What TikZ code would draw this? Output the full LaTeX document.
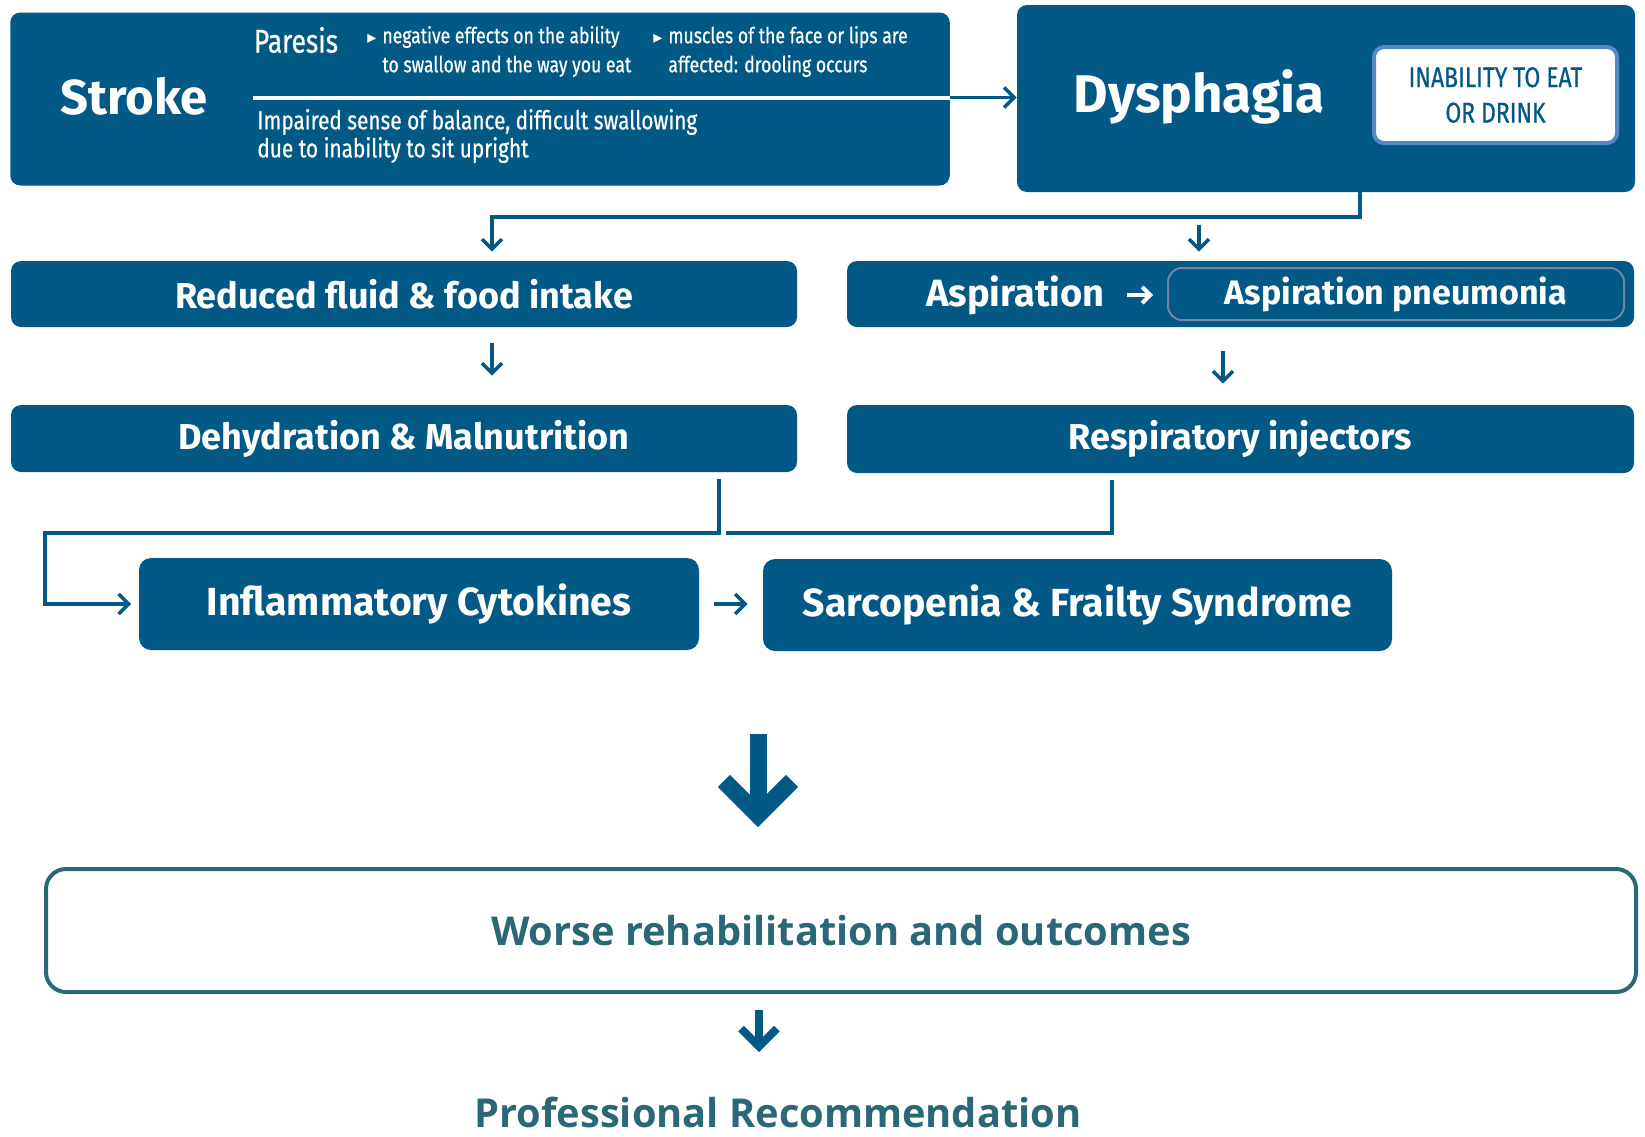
\documentclass[tikz,border=0pt]{standalone}
\usepackage{fontspec}
\setmainfont{Fira Sans}
\newfontfamily\condfont[FakeStretch=0.8,FakeBold=0.6]{Fira Sans}
\newfontfamily\opensans{Open Sans}
\newfontfamily\symfont{DejaVu Sans}
\usetikzlibrary{positioning,arrows.meta,calc}
\definecolor{DeepBlue}{RGB}{2,89,134}
\definecolor{TealText}{RGB}{42,104,120}
\definecolor{EdgeBlue}{RGB}{84,136,196}
\definecolor{EdgeGrey}{RGB}{112,134,164}
\newcommand{\tri}{{\symfont\fontsize{9}{9}\selectfont ▸}\hspace{3pt}}
\tikzset{
  flow/.style={-{Straight Barb[length=5pt,width=10pt,sharp]},line width=1.8pt,draw=DeepBlue},
  plainline/.style={line width=1.6pt,draw=DeepBlue},
  whiteflow/.style={-{Straight Barb[length=4pt,width=8pt,sharp]},line width=2pt,draw=white},
  bigflow/.style={-{Straight Barb[length=17pt,width=34pt,sharp]},line width=8.5pt,draw=DeepBlue},
  midflow/.style={-{Straight Barb[length=9pt,width=18pt,sharp]},line width=4pt,draw=DeepBlue},
  bluebox/.style={fill=DeepBlue,rounded corners=5pt,inner sep=0pt,text=white,align=center},
  rowbox/.style={bluebox,minimum height=33pt,font=\fontsize{18}{20}\selectfont\bfseries},
  lowbox/.style={bluebox,rounded corners=6pt,minimum height=46pt,font=\fontsize{19.6}{22}\selectfont\bfseries},
  headtxt/.style={text=white,inner sep=0pt,font=\fontsize{24.5}{27}\selectfont\bfseries},
  smalltxt/.style={text=white,inner sep=0pt,align=left,font=\condfont\fontsize{11}{14.5}\selectfont},
  tealtxt/.style={text=TealText,inner sep=0pt,font=\opensans\fontsize{19.9}{22}\selectfont\bfseries}
}
\begin{document}
\begin{tikzpicture}[x=0.5pt,y=-0.5pt]
  \useasboundingbox (0,0) rectangle (1645,1136);
  % top row
  \node[bluebox,minimum width=469.75pt,minimum height=86.5pt] (stroke) at (480,99) {};
  \node[bluebox,minimum width=309pt,minimum height=93.5pt] (dys) at (1326,98.5) {};
  \node[headtxt] (strokelbl) at (134,96.5) {Stroke};
  \node[headtxt,font=\fontsize{26.5}{29}\selectfont\bfseries] (dyslbl) at (1199,96.5) {Dysphagia};
  \node[fill=white,draw=EdgeBlue,line width=2pt,rounded corners=5pt,minimum width=121.5pt,
    minimum height=48pt,align=center,text=DeepBlue,inner sep=0pt,
    font=\condfont\fontsize{14.3}{17.7}\selectfont] (inab) at (1495.5,95) {INABILITY TO EAT\\OR DRINK};
  \node[text=white,inner sep=0pt,font=\condfont\fontsize{16.5}{18}\selectfont] (paresis) at (296,40) {Paresis};
  \node[smalltxt,anchor=west] (neg) at (367,51.5)
    {\tri negative effects on the ability\\\hphantom{\tri}to swallow and the way you eat};
  \node[smalltxt,anchor=west] (mus) at (653,51.5)
    {\tri muscles of the face or lips are\\\hphantom{\tri}affected: drooling occurs};
  \node[smalltxt,anchor=west,font=\condfont\fontsize{13}{14}\selectfont] (imp) at (257,136)
    {Impaired sense of balance, difficult swallowing\\due to inability to sit upright};
  \coordinate (divide) at (253,97.5);
  \draw[white,line width=2pt] (divide) -- (divide -| stroke.east);
  \draw[flow] (divide -| stroke.east) -- (divide -| dys.west);
  % second and third rows
  \node[rowbox,minimum width=393pt] (reduced) at (404,294) {Reduced fluid \& food intake};
  \node[rowbox,minimum width=393.5pt] (asp) at (1240.5,294) {};
  \node[bluebox,draw=EdgeGrey,line width=1pt,rounded corners=7pt,minimum width=228pt,minimum height=26pt,
    font=\fontsize{17}{19}\selectfont\bfseries] (pneu) at (1396,294) {Aspiration pneumonia};
  \node[text=white,inner sep=0pt,font=\fontsize{19}{21}\selectfont\bfseries] (asplbl) at (1015.5,295) {Aspiration};
  \draw[whiteflow,shorten <=11pt,shorten >=7pt] (asplbl.east) -- (asplbl.east -| pneu.west);
  \node[rowbox,minimum width=393pt,minimum height=33.5pt] (dehyd) at (404,438.5) {Dehydration \& Malnutrition};
  \node[rowbox,minimum width=393.5pt,minimum height=34pt] (resp) at (1240.5,439) {Respiratory injectors};
  \coordinate (dysfork) at (1360,217);
  \coordinate (leftdrop) at (492,217);
  \coordinate (rightdrop) at (1199,225);
  \draw[flow,shorten >=4.5pt] (dys.south -| dysfork) -- (dysfork) -- (leftdrop) -- (leftdrop |- reduced.north);
  \draw[flow,shorten >=4.5pt] (rightdrop) -- (rightdrop |- asp.north);
  \draw[flow,shorten <=8pt,shorten >=14.5pt] (reduced.south -| leftdrop) -- (dehyd.north -| leftdrop);
  \coordinate (rightmid) at (1223,351);
  \draw[flow,shorten <=12pt,shorten >=10.5pt] (asp.south -| rightmid) -- (resp.north -| rightmid);
  % fourth row
  \node[lowbox,minimum width=280pt] (infl) at (419,604) {Inflammatory Cytokines};
  \node[lowbox,minimum width=314.5pt] (sarc) at (1077.5,605) {Sarcopenia \& Frailty Syndrome};
  \coordinate (dehydout) at (719,533);
  \coordinate (respout) at (1112,533);
  \coordinate (loopleft) at (45,533);
  \draw[flow,shorten <=3.5pt,shorten >=3.75pt] (dehyd.south -| dehydout) -- (dehydout) -- (loopleft)
    -- (loopleft |- infl.west) -- (infl.west);
  \draw[plainline,shorten <=3.5pt] (resp.south -| respout) -- (respout) -- (726,533);
  \draw[flow,shorten <=7.5pt,shorten >=7.5pt] (infl.east) -- (infl.east -| sarc.west);
  % outcome
  \node[draw=TealText,line width=2pt,rounded corners=10pt,minimum width=795pt,minimum height=61.5pt,
    tealtxt] (worse) at (841,930.5) {Worse rehabilitation and outcomes};
  \node[tealtxt] (prof) at (778,1112) {Professional Recommendation};
  \coordinate (bigtop) at (758,734);
  \draw[bigflow,shorten >=20pt] (bigtop) -- (bigtop |- worse.north);
  \coordinate (midtop) at (759,1010);
  \draw[midflow,shorten >=22pt] (midtop) -- (midtop |- prof.north);
\end{tikzpicture}
\end{document}
